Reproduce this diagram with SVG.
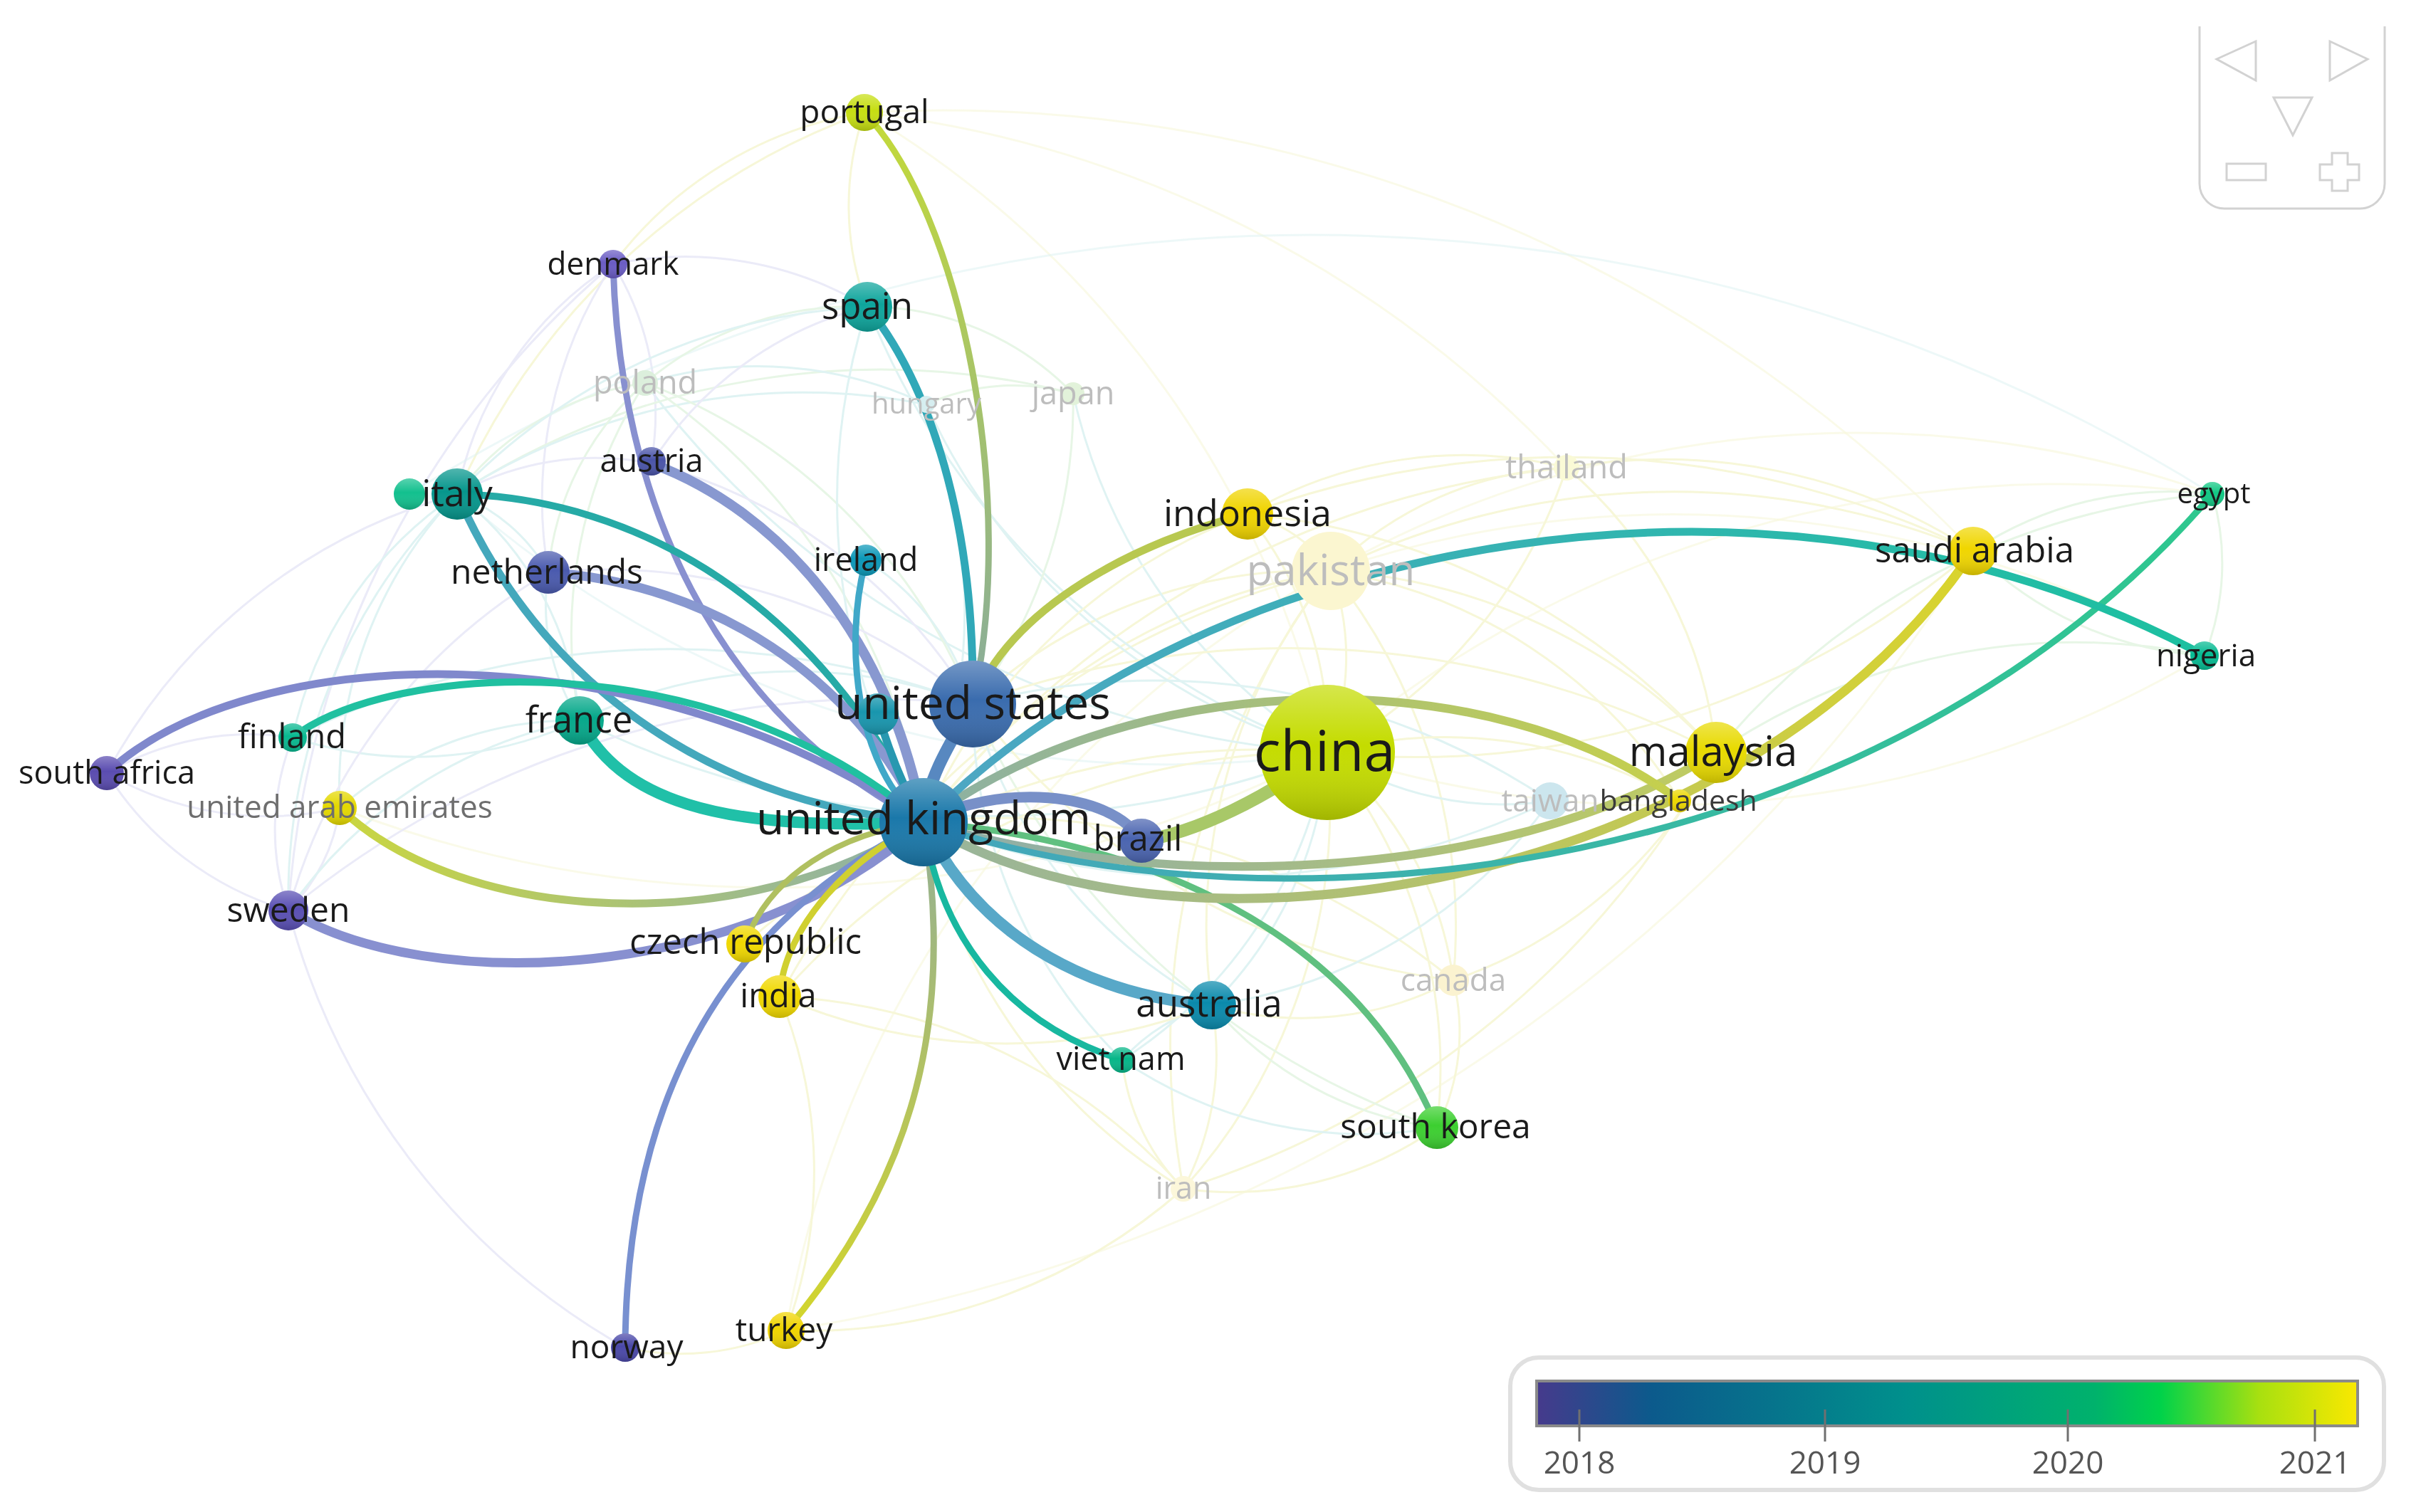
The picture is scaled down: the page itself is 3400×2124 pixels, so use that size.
<svg xmlns="http://www.w3.org/2000/svg" width="3400" height="2124" viewBox="0 0 3400 2124">
<defs>
<style>
.lb{font-family:"Open Sans","Liberation Sans",sans-serif;fill:#1a1a1a;text-anchor:middle}
.fd{fill:#bdbdbd}
.f{fill:none;stroke-width:3;opacity:.5}
.fy{stroke:#eeeeb0}.fc{stroke:#bfe6e6}.fp{stroke:#d6d6f0}.fg{stroke:#cfeccc}
.lo{opacity:.55}
.e{fill:none;stroke-linecap:round}
.sh{fill:url(#sh)}
.nav{fill:none;stroke:#d2d2d2;stroke-width:3}
.yr{font-family:"Open Sans","Liberation Sans",sans-serif;font-size:44px;fill:#555;text-anchor:middle}
</style>
<linearGradient id="sh" x1="0" y1="0" x2="0" y2="1">
<stop offset="0" stop-color="#fff" stop-opacity=".3"/>
<stop offset=".45" stop-color="#fff" stop-opacity="0"/>
<stop offset="1" stop-color="#000" stop-opacity=".18"/>
</linearGradient>
<linearGradient id="g9" gradientUnits="userSpaceOnUse" x1="1214" y1="158" x2="1366" y2="989"><stop offset="0" stop-color="#c4da38"/><stop offset="1" stop-color="#88ac9c"/></linearGradient>
<linearGradient id="g12" gradientUnits="userSpaceOnUse" x1="477" y1="1135" x2="1297" y2="1155"><stop offset="0" stop-color="#cad640"/><stop offset="1" stop-color="#8cb0aa"/></linearGradient>
<linearGradient id="g15" gradientUnits="userSpaceOnUse" x1="1104" y1="1869" x2="1297" y2="1155"><stop offset="0" stop-color="#d4d62a"/><stop offset="1" stop-color="#94b094"/></linearGradient>
<linearGradient id="g25" gradientUnits="userSpaceOnUse" x1="1297" y1="1155" x2="3096" y2="921"><stop offset="0" stop-color="#4ea6c4"/><stop offset="1" stop-color="#1cc0a0"/></linearGradient>
<linearGradient id="g26" gradientUnits="userSpaceOnUse" x1="1297" y1="1155" x2="2771" y2="774"><stop offset="0" stop-color="#98b49c"/><stop offset="1" stop-color="#dad42c"/></linearGradient>
<linearGradient id="g27" gradientUnits="userSpaceOnUse" x1="1297" y1="1155" x2="2359" y2="1125"><stop offset="0" stop-color="#8cb0a4"/><stop offset="1" stop-color="#c6d04c"/></linearGradient>
<linearGradient id="g28" gradientUnits="userSpaceOnUse" x1="1297" y1="1155" x2="2410" y2="1057"><stop offset="0" stop-color="#8cacac"/><stop offset="1" stop-color="#c0cc60"/></linearGradient>
<linearGradient id="g29" gradientUnits="userSpaceOnUse" x1="1297" y1="1155" x2="3107" y2="694"><stop offset="0" stop-color="#44a6bc"/><stop offset="1" stop-color="#2ec88e"/></linearGradient>
<linearGradient id="leg" x1="0" y1="0" x2="1" y2="0">
<stop offset="0" stop-color="#463a8c"/>
<stop offset=".14" stop-color="#0c5a8c"/>
<stop offset=".45" stop-color="#00908c"/>
<stop offset=".68" stop-color="#00b26c"/>
<stop offset=".76" stop-color="#00d24a"/>
<stop offset=".88" stop-color="#a8e010"/>
<stop offset="1" stop-color="#fae800"/>
</linearGradient>
</defs>
<rect width="3400" height="2124" fill="#fff"/>

<g id="connectors">
<g id="faint-links" class="f">
<path class="fy" d="M1869,802A350,350 0 0,1 1864,1057"/>
<path class="fy" d="M1869,802A800,800 0 0,1 2410,1057"/>
<path class="fy" d="M1869,802A1100,1100 0 0,1 2771,774"/>
<path class="fy" d="M1869,802A200,200 0 0,0 1752,722"/>
<path class="fy" d="M1869,802A500,500 0 0,1 2200,657"/>
<path class="fy" d="M1869,802A700,700 0 0,0 1366,989"/>
<path class="fy" d="M1869,802A900,900 0 0,0 1297,1155"/>
<path class="fy lo" d="M1869,802A1500,1500 0 0,1 3107,694"/>
<path class="fy lo" d="M1869,802A1500,1500 0 0,1 3096,921"/>
<path class="fy" d="M1869,802A700,700 0 0,1 2359,1125"/>
<path class="fy" d="M1869,802A800,800 0 0,1 2041,1377"/>
<path class="fy" d="M1869,802A1100,1100 0 0,0 1662,1670"/>
<path class="fy" d="M1869,802A800,800 0 0,0 1702,1412"/>
<path class="fy lo" d="M1869,802A1500,1500 0 0,0 1104,1869"/>
<path class="fy" d="M1869,802A1200,1200 0 0,0 1095,1400"/>
<path class="fy" d="M1864,1057A700,700 0 0,0 2200,657"/>
<path class="fc" d="M1864,1057A800,800 0 0,1 1507,553"/>
<path class="fc" d="M1864,1057A450,450 0 0,0 2177,1125"/>
<path class="fy" d="M1864,1057A500,500 0 0,1 2041,1377"/>
<path class="fc" d="M1864,1057A550,550 0 0,1 1702,1412"/>
<path class="fy" d="M1864,1057A1200,1200 0 0,0 2771,774"/>
<path class="fy lo" d="M1864,1057A1500,1500 0 0,0 3096,921"/>
<path class="fy lo" d="M1864,1057A1600,1600 0 0,1 3107,694"/>
<path class="fy" d="M1864,1057A700,700 0 0,1 2018,1584"/>
<path class="fy" d="M1864,1057A800,800 0 0,1 1662,1670"/>
<path class="fc" d="M1864,1057A650,650 0 0,1 1576,1489"/>
<path class="fc" d="M1864,1057A900,900 0 0,1 1301,568"/>
<path class="fc" d="M1864,1057A1300,1300 0 0,1 906,538"/>
<path class="fc lo" d="M1864,1057A1500,1500 0 0,1 642,694"/>
<path class="fc" d="M1864,1057A1300,1300 0 0,1 814,1012"/>
<path class="fc" d="M1864,1057A1100,1100 0 0,1 1218,431"/>
<path class="fy lo" d="M1864,1057A1400,1400 0 0,0 1214,158"/>
<path class="fy" d="M1864,1057A500,500 0 0,0 1752,722"/>
<path class="fy" d="M1214,158A400,400 0 0,0 1218,431"/>
<path class="fy" d="M1214,158A550,550 0 0,0 861,371"/>
<path class="fy" d="M1214,158A1000,1000 0 0,0 642,694"/>
<path class="fy lo" d="M1214,158A2000,2000 0 0,1 2771,774"/>
<path class="fy lo" d="M1214,158A1600,1600 0 0,1 2200,657"/>
<path class="fp" d="M861,371A500,500 0 0,0 642,694"/>
<path class="fp" d="M861,371A400,400 0 0,1 915,648"/>
<path class="fp" d="M861,371A600,600 0 0,0 770,804"/>
<path class="fp" d="M861,371A1300,1300 0 0,0 405,1279"/>
<path class="fp" d="M861,371A500,500 0 0,1 1218,431"/>
<path class="fp" d="M878,1893A1000,1000 0 0,1 405,1279"/>
<path class="fp" d="M405,1279A450,450 0 0,1 150,1086"/>
<path class="fp" d="M405,1279A350,350 0 0,1 411,1036"/>
<path class="fp" d="M405,1279A250,250 0 0,0 477,1135"/>
<path class="fp" d="M150,1086A450,450 0 0,0 477,1135"/>
<path class="fp" d="M150,1086A400,400 0 0,1 411,1036"/>
<path class="fp" d="M150,1086A800,800 0 0,1 642,694"/>
<path class="fc lo" d="M575,694A2384,2384 0 0,1 3107,694"/>
<path class="fg" d="M3107,694A500,500 0 0,0 2771,774"/>
<path class="fg" d="M3107,694A350,350 0 0,1 3096,921"/>
<path class="fg" d="M3107,694A1000,1000 0 0,0 2410,1057"/>
<path class="fg" d="M3096,921A500,500 0 0,1 2771,774"/>
<path class="fg" d="M3096,921A900,900 0 0,0 2410,1057"/>
<path class="fy" d="M2771,774A800,800 0 0,0 2200,657"/>
<path class="fy" d="M2771,774A1300,1300 0 0,0 1752,722"/>
<path class="fy" d="M1662,1670A300,300 0 0,1 1576,1489"/>
<path class="fy" d="M1662,1670A400,400 0 0,0 1702,1412"/>
<path class="fy" d="M1662,1670A1300,1300 0 0,0 2410,1057"/>
<path class="fy" d="M1662,1670A800,800 0 0,1 1104,1869"/>
<path class="fy" d="M1662,1670A800,800 0 0,0 1095,1400"/>
<path class="fy" d="M1662,1670A500,500 0 0,0 2018,1584"/>
<path class="fy" d="M1662,1670A800,800 0 0,1 1297,1155"/>
<path class="fy" d="M2041,1377A450,450 0 0,1 1702,1412"/>
<path class="fy" d="M2041,1377A1000,1000 0 0,1 1366,989"/>
<path class="fy" d="M2041,1377A1000,1000 0 0,0 1297,1155"/>
<path class="fy" d="M2041,1377A650,650 0 0,0 2410,1057"/>
<path class="fy" d="M2041,1377A300,300 0 0,1 2018,1584"/>
<path class="fg" d="M1507,553A700,700 0 0,1 1366,989"/>
<path class="fg" d="M1507,553A400,400 0 0,0 1218,431"/>
<path class="fg" d="M1507,553A300,300 0 0,0 1301,568"/>
<path class="fg" d="M1507,553A1100,1100 0 0,0 642,694"/>
<path class="fy" d="M2200,657A600,600 0 0,1 2410,1057"/>
<path class="fy" d="M2200,657A600,600 0 0,0 1752,722"/>
<path class="fy" d="M2200,657A1300,1300 0 0,0 1297,1155"/>
<path class="fc" d="M2177,1125A1000,1000 0 0,0 1366,989"/>
<path class="fc" d="M2177,1125A1100,1100 0 0,1 1297,1155"/>
<path class="fc" d="M2177,1125A700,700 0 0,1 1702,1412"/>
<path class="fc" d="M1301,568A550,550 0 0,0 906,538"/>
<path class="fc" d="M1301,568A900,900 0 0,0 642,694"/>
<path class="fc" d="M1301,568A800,800 0 0,1 1297,1155"/>
<path class="fg" d="M906,538A400,400 0 0,0 642,694"/>
<path class="fg" d="M906,538A450,450 0 0,1 1218,431"/>
<path class="fg" d="M906,538A900,900 0 0,1 1297,1155"/>
<path class="fg" d="M906,538A800,800 0 0,1 1366,989"/>
<path class="fg" d="M906,538A650,650 0 0,0 814,1012"/>
<path class="fg" d="M906,538A400,400 0 0,0 770,804"/>
<path class="fy" d="M1104,1869A350,350 0 0,1 878,1893"/>
<path class="fy" d="M1104,1869A650,650 0 0,0 1095,1400"/>
<path class="fy lo" d="M1104,1869A2400,2400 0 0,0 2771,774"/>
<path class="fc" d="M1576,1489A250,250 0 0,1 1702,1412"/>
<path class="fc" d="M1576,1489A600,600 0 0,0 2018,1584"/>
<path class="fc" d="M1576,1489A700,700 0 0,1 1366,989"/>
<path class="fg" d="M2018,1584A1100,1100 0 0,1 1366,989"/>
<path class="fg" d="M2018,1584A500,500 0 0,1 1702,1412"/>
<path class="fc" d="M1702,1412A700,700 0 0,1 1366,989"/>
<path class="fc" d="M642,694A450,450 0 0,1 814,1012"/>
<path class="fc" d="M642,694A250,250 0 0,1 770,804"/>
<path class="fc" d="M642,694A550,550 0 0,0 411,1036"/>
<path class="fc" d="M642,694A600,600 0 0,0 477,1135"/>
<path class="fc" d="M642,694A800,800 0 0,0 405,1279"/>
<path class="fc" d="M814,1012A550,550 0 0,1 411,1036"/>
<path class="fc" d="M814,1012A650,650 0 0,0 405,1279"/>
<path class="fc" d="M814,1012A500,500 0 0,0 477,1135"/>
<path class="fc" d="M814,1012A300,300 0 0,1 770,804"/>
<path class="fc" d="M814,1012A700,700 0 0,1 1366,989"/>
<path class="fp" d="M770,804A800,800 0 0,1 1366,989"/>
<path class="fp" d="M770,804A800,800 0 0,0 405,1279"/>
<path class="fp" d="M915,651A750,750 0 0,1 1366,989"/>
<path class="fp" d="M915,651A400,400 0 0,0 642,694"/>
<path class="fp" d="M915,651A500,500 0 0,1 1218,431"/>
<path class="fc" d="M1218,431A850,850 0 0,0 642,694"/>
<path class="fc" d="M1218,431A900,900 0 0,0 1297,1155"/>
<path class="fc" d="M1216,787A350,350 0 0,1 1366,989"/>
<path class="fy" d="M1752,722A800,800 0 0,0 1297,1155"/>
<path class="fy" d="M1752,722A1000,1000 0 0,1 2410,1057"/>
<path class="fy" d="M2410,1057A1300,1300 0 0,0 1366,989"/>
<path class="fy" d="M2359,1125A650,650 0 0,0 1864,1057"/>
<path class="fy" d="M1095,1400A800,800 0 0,0 1702,1412"/>
<path class="fy" d="M1095,1400A1000,1000 0 0,1 1864,1057"/>
<path class="fy" d="M1046,1326A1100,1100 0 0,1 1864,1057"/>
<path class="fy lo" d="M477,1135A1700,1700 0 0,0 1864,1057"/>
<path class="fp" d="M405,1279A1300,1300 0 0,1 1366,989"/>
<path class="fc" d="M411,1036A1200,1200 0 0,1 1366,989"/>
</g>
<g id="strong-links" class="e">
<path d="M861,371C870,700 1000,1000 1297,1155" stroke="#8890d0" stroke-width="9"/>
<path d="M915,651C1100,720 1250,900 1297,1155" stroke="#8898d0" stroke-width="14"/>
<path d="M642,694C900,700 1150,850 1297,1155" stroke="#26aaa6" stroke-width="10"/>
<path d="M642,694C740,920 950,1120 1297,1155" stroke="#44a8bc" stroke-width="11"/>
<path d="M770,804C1000,820 1200,950 1297,1155" stroke="#8898d0" stroke-width="13"/>
<path d="M1216,787C1185,900 1200,1080 1297,1155" stroke="#40a8c8" stroke-width="9"/>
<path d="M1218,431C1290,520 1370,700 1366,989" stroke="#30a8b8" stroke-width="11"/>
<path d="M1214,158C1350,300 1430,700 1366,989" stroke="url(#g9)" stroke-width="9"/>
<path d="M150,1086C350,900 900,880 1297,1155" stroke="#8088cc" stroke-width="11"/>
<path d="M411,1036C550,930 1000,900 1297,1155" stroke="#20c0a0" stroke-width="10"/>
<path d="M814,1012C870,1120 1000,1170 1297,1155" stroke="#20c0a8" stroke-width="16"/>
<path d="M477,1135C650,1300 1050,1320 1297,1155" stroke="url(#g12)" stroke-width="11"/>
<path d="M405,1279C600,1400 1050,1380 1297,1155" stroke="#8890d0" stroke-width="13"/>
<path d="M878,1893C880,1500 1050,1280 1297,1155" stroke="#7890d0" stroke-width="9"/>
<path d="M1104,1869C1290,1650 1340,1420 1297,1155" stroke="url(#g15)" stroke-width="9"/>
<path d="M1095,1400C1100,1300 1200,1200 1297,1155" stroke="#d0d030" stroke-width="9"/>
<path d="M1046,1326C1080,1230 1180,1170 1297,1155" stroke="#b0c060" stroke-width="8"/>
<path d="M1576,1489C1420,1440 1320,1320 1297,1155" stroke="#18b8a0" stroke-width="9"/>
<path d="M1702,1412C1550,1400 1380,1330 1297,1155" stroke="#58a8c8" stroke-width="16"/>
<path d="M2018,1584C1900,1300 1600,1180 1297,1155" stroke="#60c080" stroke-width="9"/>
<path d="M1297,1155C1650,1380 2450,1250 2771,774" stroke="url(#g26)" stroke-width="13"/>
<path d="M1297,1155C1600,1250 2100,1250 2410,1057" stroke="url(#g28)" stroke-width="12"/>
<path d="M1297,1155C1800,1330 2650,1230 3107,694" stroke="url(#g29)" stroke-width="9"/>
<path d="M1297,1155C1600,930 2100,930 2359,1125" stroke="url(#g27)" stroke-width="12"/>
<path d="M1297,1155C1700,750 2500,600 3096,921" stroke="url(#g25)" stroke-width="11"/>
<path d="M1864,1057C1780,1120 1680,1170 1603,1181" stroke="#a8c868" stroke-width="18"/>
<path d="M1603,1181C1560,1110 1400,1100 1297,1155" stroke="#7890c8" stroke-width="15"/>
<path d="M1752,722C1600,760 1420,850 1366,989" stroke="#b8c850" stroke-width="11"/>
<path d="M1366,989C1330,1050 1300,1100 1297,1155" stroke="#5888c0" stroke-width="17"/>
<path d="M1233,1003C1250,1060 1270,1110 1297,1155" stroke="#2898b0" stroke-width="11"/>
</g>
</g>

<g id="nodes">
<g id="node-pakistan"><circle cx="1869" cy="802" r="55" fill="#fbf6d0"/><text class="lb fd" x="1869" y="822" font-size="60">pakistan</text></g>
<g id="node-poland"><circle cx="906" cy="538" r="18" fill="#dcefdc"/><text class="lb fd" x="906" y="553" font-size="45">poland</text></g>
<g id="node-hungary"><circle cx="1301" cy="568" r="12" fill="#d6eef0"/><text class="lb fd" x="1301" y="581" font-size="40">hungary</text></g>
<g id="node-japan"><circle cx="1507" cy="553" r="16" fill="#e2f2da"/><text class="lb fd" x="1507" y="568" font-size="45">japan</text></g>
<g id="node-thailand"><circle cx="2200" cy="657" r="18" fill="#fafad6"/><text class="lb fd" x="2200" y="672" font-size="45">thailand</text></g>
<g id="node-taiwan"><circle cx="2177" cy="1125" r="26" fill="#cce6ee"/><text class="lb fd" x="2177" y="1140" font-size="44">taiwan</text></g>
<g id="node-canada"><circle cx="2041" cy="1377" r="22" fill="#fbf3d0"/><text class="lb fd" x="2041" y="1392" font-size="44">canada</text></g>
<g id="node-iran"><circle cx="1662" cy="1670" r="18" fill="#fcf7da"/><text class="lb fd" x="1662" y="1684" font-size="43">iran</text></g>

<g id="node-portugal"><circle cx="1214" cy="158" r="26" fill="#c6de12"/><circle class="sh" cx="1214" cy="158" r="26"/><text class="lb" x="1214" y="173" font-size="46">portugal</text></g>
<g id="node-denmark"><circle cx="861" cy="371" r="20" fill="#6a5cc4"/><circle class="sh" cx="861" cy="371" r="20"/><text class="lb" x="861" y="386" font-size="44">denmark</text></g>
<g id="node-spain"><circle cx="1218" cy="431" r="35" fill="#0ea59c"/><circle class="sh" cx="1218" cy="431" r="35"/><text class="lb" x="1218" y="448" font-size="51">spain</text></g>
<g id="node-austria"><circle cx="915" cy="648" r="20" fill="#4a54a8"/><circle class="sh" cx="915" cy="648" r="20"/><text class="lb" x="915" y="663" font-size="45">austria</text></g>
<g id="node-italy-2"><circle cx="575" cy="694" r="22" fill="#12c08e"/><circle class="sh" cx="575" cy="694" r="22"/></g>
<g id="node-italy"><circle cx="642" cy="694" r="36" fill="#06968c"/><circle class="sh" cx="642" cy="694" r="36"/><text class="lb" x="642" y="711" font-size="52">italy</text></g>
<g id="node-indonesia"><circle cx="1752" cy="722" r="36" fill="#f0d400"/><circle class="sh" cx="1752" cy="722" r="36"/><text class="lb" x="1752" y="739" font-size="52">indonesia</text></g>
<g id="node-ireland"><circle cx="1216" cy="787" r="22" fill="#0c98b8"/><circle class="sh" cx="1216" cy="787" r="22"/><text class="lb" x="1216" y="802" font-size="45">ireland</text></g>
<g id="node-netherlands"><circle cx="770" cy="804" r="30" fill="#4a5aae"/><circle class="sh" cx="770" cy="804" r="30"/><text class="lb" x="768" y="820" font-size="48">netherlands</text></g>
<g id="node-saudi-arabia"><circle cx="2771" cy="774" r="34" fill="#f0d600"/><circle class="sh" cx="2771" cy="774" r="34"/><text class="lb" x="2773" y="790" font-size="49">saudi arabia</text></g>
<g id="node-egypt"><circle cx="3107" cy="694" r="17" fill="#12c884"/><circle class="sh" cx="3107" cy="694" r="17"/><text class="lb" x="3109" y="707" font-size="40">egypt</text></g>
<g id="node-nigeria"><circle cx="3096" cy="921" r="20" fill="#06ba92"/><circle class="sh" cx="3096" cy="921" r="20"/><text class="lb" x="3098" y="936" font-size="44">nigeria</text></g>
<g id="node-unlabeled"><circle cx="1233" cy="1003" r="29" fill="#1896ae"/><circle class="sh" cx="1233" cy="1003" r="29"/></g>
<g id="node-united-states"><circle cx="1366" cy="989" r="61" fill="#3a6cae"/><circle class="sh" cx="1366" cy="989" r="61"/><text class="lb" x="1366" y="1010" font-size="64">united states</text></g>
<g id="node-china"><circle cx="1864" cy="1057" r="95" fill="#c4dc00"/><circle class="sh" cx="1864" cy="1057" r="95"/><text class="lb" x="1860" y="1083" font-size="79">china</text></g>
<g id="node-malaysia"><circle cx="2410" cy="1057" r="43" fill="#e8da00"/><circle class="sh" cx="2410" cy="1057" r="43"/><text class="lb" x="2406" y="1076" font-size="58">malaysia</text></g>
<g id="node-bangladesh"><circle cx="2359" cy="1125" r="16" fill="#ecd800"/><circle class="sh" cx="2359" cy="1125" r="16"/><text class="lb" x="2357" y="1139" font-size="41" style="fill:#3a3a3a">bangladesh</text></g>
<g id="node-france"><circle cx="814" cy="1012" r="34" fill="#05a88a"/><circle class="sh" cx="814" cy="1012" r="34"/><text class="lb" x="813" y="1029" font-size="51">france</text></g>
<g id="node-finland"><circle cx="411" cy="1036" r="20" fill="#08b890"/><circle class="sh" cx="411" cy="1036" r="20"/><text class="lb" x="410" y="1051" font-size="47">finland</text></g>
<g id="node-south-africa"><circle cx="150" cy="1086" r="24" fill="#5a4cb0"/><circle class="sh" cx="150" cy="1086" r="24"/><text class="lb" x="150" y="1101" font-size="45">south africa</text></g>
<g id="node-united-arab-emirates"><circle cx="477" cy="1135" r="24" fill="#e4d800"/><circle class="sh" cx="477" cy="1135" r="24"/><text class="lb" x="477" y="1149" font-size="44" style="fill:#6e6e6e">united arab emirates</text></g>
<g id="node-united-kingdom"><circle cx="1297" cy="1155" r="62" fill="#1a78aa"/><circle class="sh" cx="1297" cy="1155" r="62"/><text class="lb" x="1297" y="1172" font-size="64">united kingdom</text></g>
<g id="node-brazil"><circle cx="1603" cy="1181" r="31" fill="#4a64b0"/><circle class="sh" cx="1603" cy="1181" r="31"/><text class="lb" x="1598" y="1195" font-size="49">brazil</text></g>
<g id="node-sweden"><circle cx="405" cy="1279" r="28" fill="#5a50b4"/><circle class="sh" cx="405" cy="1279" r="28"/><text class="lb" x="405" y="1295" font-size="48">sweden</text></g>
<g id="node-czech-republic"><circle cx="1046" cy="1326" r="26" fill="#f0d800"/><circle class="sh" cx="1046" cy="1326" r="26"/><text class="lb" x="1047" y="1340" font-size="49">czech republic</text></g>
<g id="node-india"><circle cx="1095" cy="1400" r="30" fill="#f0d800"/><circle class="sh" cx="1095" cy="1400" r="30"/><text class="lb" x="1093" y="1415" font-size="47">india</text></g>
<g id="node-australia"><circle cx="1702" cy="1412" r="34" fill="#0a8aac"/><circle class="sh" cx="1702" cy="1412" r="34"/><text class="lb" x="1698" y="1428" font-size="51">australia</text></g>
<g id="node-viet-nam"><circle cx="1576" cy="1489" r="18" fill="#06b688"/><circle class="sh" cx="1576" cy="1489" r="18"/><text class="lb" x="1574" y="1503" font-size="45">viet nam</text></g>
<g id="node-south-korea"><circle cx="2018" cy="1584" r="30" fill="#3ccf30"/><circle class="sh" cx="2018" cy="1584" r="30"/><text class="lb" x="2016" y="1599" font-size="48">south korea</text></g>
<g id="node-turkey"><circle cx="1104" cy="1869" r="26" fill="#f0d400"/><circle class="sh" cx="1104" cy="1869" r="26"/><text class="lb" x="1101" y="1884" font-size="46">turkey</text></g>
<g id="node-norway"><circle cx="878" cy="1893" r="20" fill="#4a48a8"/><circle class="sh" cx="878" cy="1893" r="20"/><text class="lb" x="880" y="1908" font-size="46">norway</text></g>
</g>

<g id="navigation">
<path class="nav" d="M3089,37V258a35,35 0 0,0 35,35H3314a35,35 0 0,0 35,-35V37"/>
<polygon class="nav" points="3113,83 3168,58 3168,113"/>
<polygon class="nav" points="3272,58 3272,113 3325,83"/>
<polygon class="nav" points="3193,137 3247,137 3220,190"/>
<rect class="nav" x="3127" y="230" width="55" height="23"/>
<path class="nav" d="M3275,215H3297V231H3313V253H3297V268H3275V253H3258V231H3275Z"/>
</g>

<g id="legend">
<rect x="2121" y="1907" width="1227" height="186" rx="40" fill="#fff" stroke="#e0e0e0" stroke-width="6"/>
<rect x="2158" y="1940" width="1153" height="63" fill="url(#leg)" stroke="#8a8a8a" stroke-width="4"/>
<g stroke="#707070" stroke-width="3">
<line x1="2218" y1="1980" x2="2218" y2="2025"/>
<line x1="2563" y1="1980" x2="2563" y2="2025"/>
<line x1="2904" y1="1980" x2="2904" y2="2025"/>
<line x1="3251" y1="1980" x2="3251" y2="2025"/>
</g>
<text class="yr" x="2218" y="2070">2018</text>
<text class="yr" x="2563" y="2070">2019</text>
<text class="yr" x="2904" y="2070">2020</text>
<text class="yr" x="3251" y="2070">2021</text>
</g>
</svg>
